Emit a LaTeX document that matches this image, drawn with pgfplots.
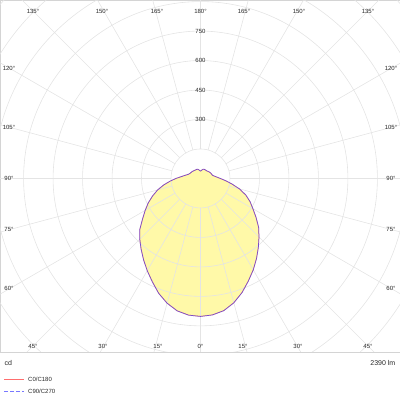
\documentclass[border=0pt]{standalone}
\usepackage{fontspec}
\setmainfont{Liberation Sans}
\usepackage{pgfplots}
\pgfplotsset{compat=1.18}
\usepackage{pgfplotstable}

\definecolor{gridc}{RGB}{228,228,228}
\definecolor{framec}{RGB}{212,212,212}
\definecolor{fillc}{RGB}{255,249,168}
\definecolor{txtc}{RGB}{40,40,40}
\definecolor{cZero}{RGB}{255,0,0}
\definecolor{cNinety}{RGB}{40,40,255}
\definecolor{legZero}{RGB}{255,110,110}
\definecolor{legNinety}{RGB}{120,120,255}

\newcommand\angfont{\fontsize{6}{7}\selectfont}

% luminous intensity (cd) against gamma (deg), C0/C180 and C90/C270
\pgfplotstableread{
g    c0   c90
-180 38   38
-175 40   40
-170 44   44
-165 48   48
-160 50   50
-155 50   50
-150 50   50
-145 51   51
-140 52   52
-135 53   53
-130 55   55
-125 56   56
-120 58   58
-115 60   60
-110 64   64
-105 72   72
-100 84   84
-95  100  100
-90  125  125
-85  155  155
-80  190  190
-75  226  226
-70  259  259
-65  293  293
-60  325  325
-55  360  360
-50  403  403
-45  437  437
-40  470  470
-35  505  505
-30  542  542
-25  580  580
-20  622  622
-15  657  657
-10  684  684
-5   698  698
0    702  702
5    697  697
10   683  683
15   655  655
20   618  618
25   576  576
30   537  537
35   497  497
40   458  458
45   421  421
50   386  386
55   345  345
60   308  308
65   278  278
70   245  245
75   205  205
80   163  163
85   128  128
90   101  101
95   83   83
100  71   71
105  63   63
110  61   61
115  60   60
120  58   58
125  56   56
130  54   54
135  52   52
140  50   50
145  50   50
150  50   50
155  50   50
160  50   50
165  48   48
170  44   44
175  40   40
180  38   38
}\ldc

\begin{document}
\begin{tikzpicture}
\path[use as bounding box] (0,0) rectangle (400pt,-400pt);
\begin{axis}[
  at={(0,0)}, anchor=north west,
  scale only axis,
  width=400pt, height=352pt,
  xmin=-1020, xmax=1015,
  ymin=-883, ymax=908,
  xtick=\empty, ytick=\empty,
  axis line style={draw=framec, line width=0.9pt},
  clip=true,
]
  % light distribution area
  \addplot[draw=none, fill=fillc] table[
    x expr={\thisrow{c0}*sin(\thisrow{g})},
    y expr={-\thisrow{c0}*cos(\thisrow{g})}] {\ldc};

  % polar grid
  \pgfplotsinvokeforeach{150,300,...,1350}{
    \draw[gridc, line width=0.6pt] (axis cs:0,0) circle[radius=#1];
  }
  \pgfplotsinvokeforeach{0,15,...,345}{
    \draw[gridc, line width=0.6pt]
      (axis cs:{150*sin(#1)},{-150*cos(#1)}) --
      (axis cs:{2500*sin(#1)},{-2500*cos(#1)});
  }

  % curves
  \addplot[cZero, draw opacity=0.45, line width=0.75pt] table[
    x expr={\thisrow{c0}*sin(\thisrow{g})},
    y expr={-\thisrow{c0}*cos(\thisrow{g})}] {\ldc};
  \addplot[cNinety, draw opacity=0.6, line width=0.75pt] table[
    x expr={\thisrow{c90}*sin(\thisrow{g})},
    y expr={-\thisrow{c90}*cos(\thisrow{g})}] {\ldc};
\end{axis}

% angle labels
\begin{scope}[every node/.style={font=\angfont, text=txtc, inner sep=0pt}]
  \node at (33pt,-11pt) {135°};
  \node at (102pt,-11pt) {150°};
  \node at (157pt,-11pt) {165°};
  \node at (200.5pt,-11pt) {180°};
  \node at (244pt,-11pt) {165°};
  \node at (299pt,-11pt) {150°};
  \node at (368pt,-11pt) {135°};
  \node at (9pt,-68pt) {120°};
  \node at (9pt,-127pt) {105°};
  \node at (9pt,-178.5pt) {90°};
  \node at (9pt,-229pt) {75°};
  \node at (9pt,-288pt) {60°};
  \node at (391pt,-68pt) {120°};
  \node at (391pt,-127pt) {105°};
  \node at (391pt,-178.5pt) {90°};
  \node at (391pt,-229pt) {75°};
  \node at (391pt,-288pt) {60°};
  \node at (33pt,-346pt) {45°};
  \node at (103pt,-346pt) {30°};
  \node at (158pt,-346pt) {15°};
  \node at (200.5pt,-346pt) {0°};
  \node at (243pt,-346pt) {15°};
  \node at (298pt,-346pt) {30°};
  \node at (368pt,-346pt) {45°};
  \node at (200.5pt,-119.5pt) {300};
  \node at (200.5pt,-90pt) {450};
  \node at (200.5pt,-60.5pt) {600};
  \node at (200.5pt,-31pt) {750};
\end{scope}

% units and flux
\node[font=\fontsize{7}{8}\selectfont, text=txtc, anchor=west, inner sep=0pt] at (4.5pt,-362.5pt) {cd};
\node[font=\fontsize{7}{8}\selectfont, text=txtc, anchor=east, inner sep=0pt] at (395.5pt,-363pt) {2390 lm};

% legend
\draw[legZero, line width=1pt] (4pt,-379pt) -- (24pt,-379pt);
\node[font=\angfont, text=txtc, anchor=west, inner sep=0pt] at (28pt,-379pt) {C0/C180};
\draw[legNinety, line width=1pt, dash pattern=on 3.5pt off 2.5pt] (4pt,-391pt) -- (24pt,-391pt);
\node[font=\angfont, text=txtc, anchor=west, inner sep=0pt] at (28pt,-391pt) {C90/C270};
\end{tikzpicture}
\end{document}
